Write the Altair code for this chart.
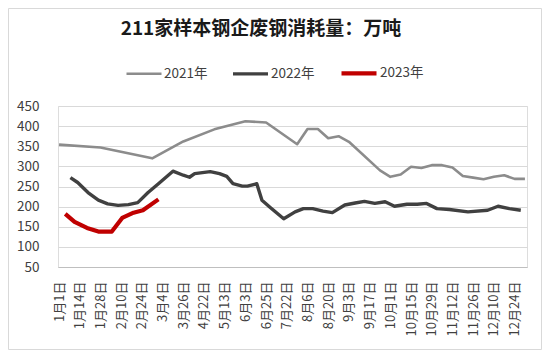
import json
import altair as alt
import pandas as pd

# ---- data ----
chart_title = "211家样本钢企废钢消耗量：万吨"

x_labels = ["1月1日", "1月14日", "1月28日", "2月10日", "2月24日", "3月4日", "3月26日",
            "4月22日", "5月13日", "6月3日", "6月25日", "7月22日", "8月6日", "8月20日",
            "9月3日", "9月17日", "10月1日", "10月15日", "10月29日", "11月12日",
            "11月26日", "12月10日", "12月24日"]

series_names = ["2021年", "2022年", "2023年"]
series_colors = ["#8c8c8c", "#404040", "#c00000"]
series_widths = [2.6, 4.2, 4.2]

# position in category units (label k sits at 2k)
pos_2021 = [0, 4, 9, 12, 15, 18, 20, 23, 24, 25, 26, 27, 28, 31, 32, 33, 34, 35, 36,
            37, 38, 39, 40, 41, 42, 43, 44, 45]
val_2021 = [354, 347, 320, 362, 392, 412, 409, 355, 393, 393, 370, 375, 361, 290, 274,
            280, 299, 296, 303, 303, 297, 276, 272, 268, 274, 278, 269, 269]

pos_2022 = [1.1, 1.8, 2.8, 3.8, 4.7, 5.7, 6.7, 7.6, 8.6, 9.6, 11.0, 12.0, 12.6, 13.1,
            14.6, 15.5, 16.2, 16.8, 17.7, 18.2, 19.1, 19.6, 20.4, 21.7, 22.8, 23.6,
            24.5, 25.5, 26.4, 27.6, 28.6, 29.5, 30.5, 31.5, 32.4, 33.6, 34.6, 35.5,
            36.5, 37.7, 39.5, 41.4, 42.4, 43.5, 44.6]
val_2022 = [272, 260, 235, 216, 207, 203, 205, 210, 235, 257, 288, 278, 273, 282, 287,
            282, 275, 257, 251, 251, 257, 216, 198, 170, 187, 195, 195, 189, 185, 204,
            209, 213, 208, 212, 201, 206, 206, 208, 195, 193, 187, 191, 201, 195, 191]

pos_2023 = [0.6, 1.5, 2.7, 3.8, 5.1, 6.1, 7.2, 8.1, 9.6]
val_2023 = [182, 162, 147, 138, 138, 172, 185, 191, 218]

y_ticks = [50, 100, 150, 200, 250, 300, 350, 400, 450]

rows = []
for name, ps, vs in zip(series_names, [pos_2021, pos_2022, pos_2023],
                        [val_2021, val_2022, val_2023]):
    for p, v in zip(ps, vs):
        rows.append({"series": name, "pos": p, "value": v})
df = pd.DataFrame(rows)

FONT = "Noto Sans CJK SC"
label_js = json.dumps(x_labels, ensure_ascii=False)

legend = alt.Legend(
    title=None, orient="none", legendX=67, legendY=-53, direction="horizontal",
    symbolType="stroke", symbolSize=1225, labelFont=FONT, labelFontSize=13.5,
    labelColor="#404040", columnPadding=18, labelOffset=1,
)

lines = alt.Chart(df).mark_line(strokeJoin="round", strokeCap="butt").encode(
    x=alt.X("pos:Q",
            scale=alt.Scale(domain=[-0.1, 45.2], nice=False, zero=False),
            axis=alt.Axis(values=list(range(0, 45, 2)),
                          labelExpr=label_js + "[round(datum.value/2)]",
                          labelAngle=270, labelFont=FONT, labelFontSize=13,
                          labelColor="#404040", labelPadding=14, labelOverlap=False,
                          grid=False, ticks=False, title=None,
                          domainColor="#bfbfbf", domainWidth=1)),
    y=alt.Y("value:Q",
            scale=alt.Scale(domain=[50, 450], nice=False, zero=False),
            axis=alt.Axis(values=y_ticks, grid=True, gridColor="#d9d9d9",
                          domain=False, ticks=False, labelPadding=19, title=None,
                          labelFont=FONT, labelFontSize=13.5, labelColor="#404040")),
    color=alt.Color("series:N",
                    scale=alt.Scale(domain=series_names, range=series_colors),
                    legend=legend),
    strokeWidth=alt.StrokeWidth("series:N",
                                scale=alt.Scale(domain=series_names, range=series_widths),
                                legend=legend),
)

title_text = alt.Chart(pd.DataFrame({"t": [chart_title]})).mark_text(
    font=FONT, fontSize=19, fontWeight="bold", color="#1a1a1a",
    align="center", baseline="middle",
).encode(text="t:N", x=alt.value(203), y=alt.value(-77))

# light frame around the whole chart area (decoration)
frame = alt.Chart(pd.DataFrame({"f": [0]})).mark_rect(
    fill="transparent", stroke="#d9d9d9", strokeWidth=1,
).encode(x=alt.value(-49.5), x2=alt.value(483.5), y=alt.value(-97.5), y2=alt.value(243.5))

chart = alt.layer(frame, lines, title_text).properties(
    width=469, height=161,
    autosize=alt.AutoSizeParams(type="none"),
    padding={"left": 50, "top": 98, "right": 15, "bottom": 83},
).configure_view(stroke=None).configure(background="white")

chart.save("out.html", embed_options={"renderer": "svg", "actions": False})
